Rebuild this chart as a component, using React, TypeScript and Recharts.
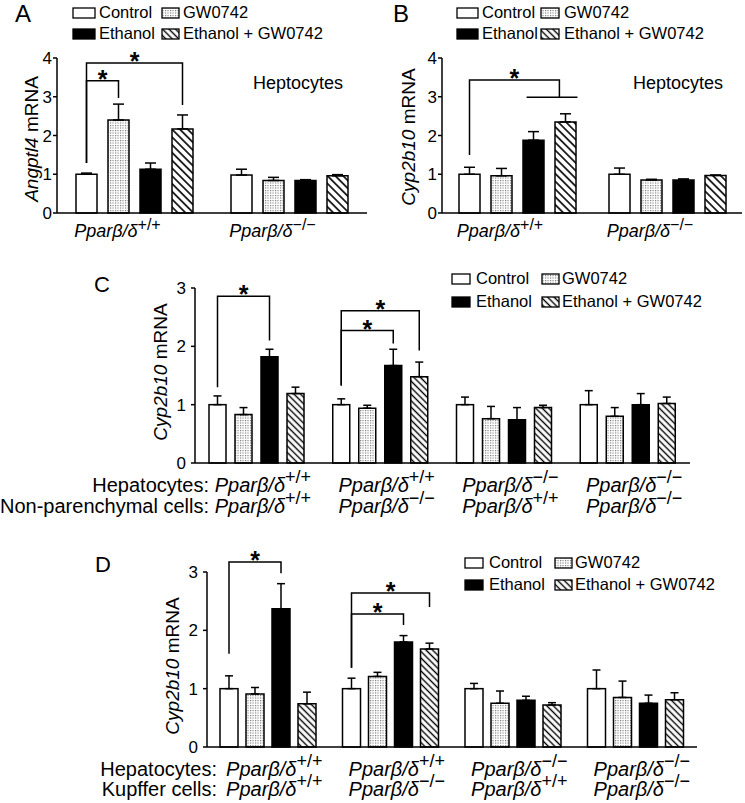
import React from "react";
import { Bar, BarChart, ErrorBar, XAxis, YAxis } from "recharts";

const FONT = "'Liberation Sans', Arial, Helvetica, sans-serif";

const seriesNames = ["Control", "GW0742", "Ethanol", "Ethanol + GW0742"];

// Panel A: Angptl4 mRNA, hepatocytes
const genoA = ["+/+", "−/−"];
const controlA = [1.0, 0.98];
const controlSemA = [0.03, 0.15];
const gwA = [2.4, 0.84];
const gwSemA = [0.41, 0.08];
const ethanolA = [1.13, 0.84];
const ethanolSemA = [0.16, 0.02];
const ethGwA = [2.17, 0.96];
const ethGwSemA = [0.36, 0.03];

// Panel B: Cyp2b10 mRNA, hepatocytes
const genoB = ["+/+", "−/−"];
const controlB = [1.0, 1.0];
const controlSemB = [0.18, 0.16];
const gwB = [0.96, 0.85];
const gwSemB = [0.19, 0.02];
const ethanolB = [1.88, 0.85];
const ethanolSemB = [0.22, 0.03];
const ethGwB = [2.35, 0.97];
const ethGwSemB = [0.21, 0.01];

// Panel C: hepatocytes + non-parenchymal cells
const hepC = ["+/+", "+/+", "−/−", "−/−"];
const npcC = ["+/+", "−/−", "+/+", "−/−"];
const controlC = [1.0, 1.0, 1.0, 1.0];
const controlSemC = [0.15, 0.1, 0.13, 0.24];
const gwC = [0.83, 0.94, 0.76, 0.8];
const gwSemC = [0.12, 0.05, 0.21, 0.15];
const ethanolC = [1.82, 1.67, 0.74, 1.0];
const ethanolSemC = [0.13, 0.28, 0.21, 0.19];
const ethGwC = [1.19, 1.48, 0.95, 1.02];
const ethGwSemC = [0.11, 0.25, 0.04, 0.11];

// Panel D: hepatocytes + Kupffer cells
const hepD = ["+/+", "+/+", "−/−", "−/−"];
const kupD = ["+/+", "−/−", "+/+", "−/−"];
const controlD = [1.0, 1.0, 1.0, 1.0];
const controlSemD = [0.22, 0.18, 0.09, 0.32];
const gwD = [0.91, 1.21, 0.75, 0.85];
const gwSemD = [0.11, 0.07, 0.21, 0.28];
const ethanolD = [2.37, 1.8, 0.8, 0.75];
const ethanolSemD = [0.43, 0.11, 0.07, 0.14];
const ethGwD = [0.74, 1.68, 0.72, 0.81];
const ethGwSemD = [0.2, 0.1, 0.04, 0.12];

// significance brackets: from control bar to series `to`, levels in mRNA units
type Bracket = { group: number; to: number | number[]; top: number; left: number; right: number };
const bracketsA: Bracket[] = [
  { group: 0, to: 1, top: 3.41, left: 1.29, right: 2.97 },
  { group: 0, to: 3, top: 3.87, left: 1.29, right: 2.79 },
];
const bracketsB: Bracket[] = [{ group: 0, to: [2, 3], top: 3.43, left: 1.5, right: 2.99 }];
const bracketsC: Bracket[] = [
  { group: 0, to: 2, top: 2.86, left: 1.3, right: 2.1 },
  { group: 1, to: 3, top: 2.61, left: 1.33, right: 1.93 },
  { group: 1, to: 2, top: 2.27, left: 1.33, right: 2.05 },
];
const bracketsD: Bracket[] = [
  { group: 0, to: 2, top: 3.17, left: 1.6, right: 2.98 },
  { group: 1, to: 3, top: 2.64, left: 1.36, right: 2.4 },
  { group: 1, to: 2, top: 2.28, left: 1.36, right: 2.09 },
];

function rows(
  ctrl: number[], ctrlSem: number[], gw: number[], gwSem: number[],
  et: number[], etSem: number[], eg: number[], egSem: number[]
) {
  return ctrl.map((_, i) => ({
    key: String(i),
    control: ctrl[i],
    controlErr: [0, ctrlSem[i]],
    gw: gw[i],
    gwErr: [0, gwSem[i]],
    ethanol: et[i],
    ethanolErr: [0, etSem[i]],
    ethGw: eg[i],
    ethGwErr: [0, egSem[i]],
  }));
}

const dataA = rows(controlA, controlSemA, gwA, gwSemA, ethanolA, ethanolSemA, ethGwA, ethGwSemA);
const dataB = rows(controlB, controlSemB, gwB, gwSemB, ethanolB, ethanolSemB, ethGwB, ethGwSemB);
const dataC = rows(controlC, controlSemC, gwC, gwSemC, ethanolC, ethanolSemC, ethGwC, ethGwSemC);
const dataD = rows(controlD, controlSemD, gwD, gwSemD, ethanolD, ethanolSemD, ethGwD, ethGwSemD);

// control bar that also carries the brackets of its group
function controlShape(vals: number[], brackets: Bracket[], gap: number) {
  return (p: any) => {
    const { x, y, width, height, index } = p;
    const base = y + height;
    const unit = height / vals[index];
    const py = (v: number) => base - v * unit;
    const step = width + gap;
    const cx = x + width / 2;
    return (
      <g>
        <rect x={x} y={y} width={width} height={height} fill="#fff" stroke="#000" strokeWidth={1.5} />
        {brackets
          .filter((b) => b.group === index)
          .map((b, k) => {
            let d: string;
            let xEnd: number;
            if (Array.isArray(b.to)) {
              const xa = cx + b.to[0] * step;
              const xb = cx + b.to[1] * step;
              xEnd = xb - 0.29 * width;
              d = `M${cx},${py(b.left)}V${py(b.top)}H${xEnd}V${py(b.right)}M${xa - 0.33 * width},${py(b.right)}H${xb + 0.57 * width}`;
            } else {
              xEnd = cx + b.to * step;
              d = `M${cx},${py(b.left)}V${py(b.top)}H${xEnd}V${py(b.right)}`;
            }
            return (
              <g key={k}>
                <path d={d} fill="none" stroke="#000" strokeWidth={1.5} />
                <text x={(cx + xEnd) / 2} y={py(b.top) + 7} textAnchor="middle" fontSize={25} fontWeight="bold" fill="#000">
                  *
                </text>
              </g>
            );
          })}
      </g>
    );
  };
}

function GenoTick(props: any) {
  const { x, y, payload, labels, fontSize, supSize, dx, lineY, raise } = props;
  const i = payload.index;
  return (
    <g>
      {labels.map((r: string[], k: number) => (
        <text key={k} x={x + dx} y={y + lineY[k]} textAnchor="middle" fontSize={fontSize} fill="#000">
          <tspan fontStyle="italic">Pparβ/δ</tspan>
          <tspan dy={-raise} fontSize={supSize}>
            {r[i]}
          </tspan>
        </text>
      ))}
    </g>
  );
}

interface PanelProps {
  left: number;
  top: number;
  width: number;
  height: number;
  margin: { top: number; right: number; bottom: number; left: number };
  data: any[];
  ctrl: number[];
  yMax: number;
  axisWidth: number;
  xHeight: number;
  barSize: number;
  barGap: number;
  hatch: string;
  cap: number;
  brackets: Bracket[];
  labels: string[][];
  labelFont: number;
  supFont: number;
  labelDx: number;
  lineY: number[];
  raise: number;
  tickMargin: number;
}

function Panel(p: PanelProps) {
  const yTicks = Array.from({ length: p.yMax + 1 }, (_, i) => i);
  const axisStyle = { stroke: "#000", strokeWidth: 1.5 };
  return (
    <div style={{ position: "absolute", left: p.left, top: p.top, width: p.width, height: p.height }}>
      <BarChart width={p.width} height={p.height} data={p.data} margin={p.margin} barGap={p.barGap}>
        <XAxis
          dataKey="key"
          height={p.xHeight}
          interval={0}
          tickLine={false}
          tickSize={0}
          tickMargin={0}
          axisLine={axisStyle}
          tick={
            <GenoTick
              labels={p.labels}
              fontSize={p.labelFont}
              supSize={p.supFont}
              dx={p.labelDx}
              lineY={p.lineY}
              raise={p.raise}
            />
          }
        />
        <YAxis
          domain={[0, p.yMax]}
          ticks={yTicks}
          interval={0}
          width={p.axisWidth}
          tickSize={4}
          tickMargin={p.tickMargin}
          axisLine={axisStyle}
          tickLine={axisStyle}
          tick={{ fill: "#000", fontSize: 17 }}
        />
        <Bar
          dataKey="control"
          barSize={p.barSize}
          fill="#fff"
          isAnimationActive={false}
          shape={controlShape(p.ctrl, p.brackets, p.barGap)}
        >
          <ErrorBar dataKey="controlErr" width={p.cap} stroke="#000" strokeWidth={1.5} />
        </Bar>
        <Bar dataKey="gw" barSize={p.barSize} fill="url(#dots)" stroke="#000" strokeWidth={1.5} isAnimationActive={false}>
          <ErrorBar dataKey="gwErr" width={p.cap} stroke="#000" strokeWidth={1.5} />
        </Bar>
        <Bar dataKey="ethanol" barSize={p.barSize} fill="#000" stroke="#000" strokeWidth={1.5} isAnimationActive={false}>
          <ErrorBar dataKey="ethanolErr" width={p.cap} stroke="#000" strokeWidth={1.5} />
        </Bar>
        <Bar dataKey="ethGw" barSize={p.barSize} fill={`url(#${p.hatch})`} stroke="#000" strokeWidth={1.5} isAnimationActive={false}>
          <ErrorBar dataKey="ethGwErr" width={p.cap} stroke="#000" strokeWidth={1.5} />
        </Bar>
      </BarChart>
    </div>
  );
}

const seriesFills = ["#fff", "url(#dots)", "#000", "url(#hatchC)"];

function LegendBlock({ x, textX, base, boxW, fs }: { x: number[]; textX: number[]; base: number[]; boxW: number[]; fs: number }) {
  return (
    <g>
      {seriesNames.map((name, i) => {
        const col = i % 2;
        const row = Math.floor(i / 2);
        return (
          <g key={name}>
            <rect x={x[col]} y={base[row] - 10} width={boxW[col]} height={10} fill={seriesFills[i]} stroke="#000" strokeWidth={1.3} />
            <text x={textX[col]} y={base[row]} fontSize={fs} fill="#000">
              {name}
            </text>
          </g>
        );
      })}
    </g>
  );
}

function YLabel({ x, y, gene, fs }: { x: number; y: number; gene: string; fs: number }) {
  return (
    <text x={x} y={y} transform={`rotate(-90 ${x} ${y})`} textAnchor="middle" dominantBaseline="central" fontSize={fs} fill="#000">
      <tspan fontStyle="italic">{gene}</tspan> mRNA
    </text>
  );
}

export default function App() {
  return (
    <div style={{ position: "absolute", left: 0, top: 0, width: 745, height: 803, background: "#fff", fontFamily: FONT, overflow: "hidden" }}>
      <svg width={0} height={0} style={{ position: "absolute" }}>
        <defs>
          <pattern id="dots" width={2.5} height={2.5} patternUnits="userSpaceOnUse">
            <rect width={2.5} height={2.5} fill="#fff" />
            <rect width={1.1} height={1.1} fill="#6f6f6f" />
          </pattern>
          <pattern id="hatchA" width={5.5} height={5.5} patternUnits="userSpaceOnUse" patternTransform="rotate(-45)">
            <rect width={5.5} height={5.5} fill="#fff" />
            <line x1={2.75} y1={0} x2={2.75} y2={5.5} stroke="#000" strokeWidth={1.6} />
          </pattern>
          <pattern id="hatchC" width={4.6} height={4.6} patternUnits="userSpaceOnUse" patternTransform="rotate(-45)">
            <rect width={4.6} height={4.6} fill="#fff" />
            <line x1={2.3} y1={0} x2={2.3} y2={4.6} stroke="#000" strokeWidth={1.4} />
          </pattern>
        </defs>
      </svg>

      <Panel
        left={0} top={0} width={370} height={245}
        margin={{ top: 58, right: 3, bottom: 0, left: 0 }}
        data={dataA} ctrl={controlA} yMax={4} axisWidth={57} xHeight={32}
        barSize={21} barGap={11} hatch="hatchA" cap={5.5} brackets={bracketsA}
        labels={[genoA]} labelFont={18} supFont={16} labelDx={-17} lineY={[24]} raise={7} tickMargin={1}
      />
      <Panel
        left={370} top={0} width={375} height={245}
        margin={{ top: 58, right: 3, bottom: 0, left: 0 }}
        data={dataB} ctrl={controlB} yMax={4} axisWidth={72} xHeight={32}
        barSize={21} barGap={11} hatch="hatchA" cap={5.5} brackets={bracketsB}
        labels={[genoB]} labelFont={18} supFont={16} labelDx={-17} lineY={[24]} raise={7} tickMargin={1}
      />
      <Panel
        left={0} top={240} width={745} height={290}
        margin={{ top: 48, right: 55, bottom: 0, left: 0 }}
        data={dataC} ctrl={controlC} yMax={3} axisWidth={195} xHeight={67}
        barSize={17} barGap={9} hatch="hatchC" cap={4} brackets={bracketsC}
        labels={[hepC, npcC]} labelFont={20} supFont={18} labelDx={6} lineY={[29, 50]} raise={9} tickMargin={5}
      />
      <Panel
        left={0} top={520} width={745} height={283}
        margin={{ top: 52, right: 48, bottom: 0, left: 0 }}
        data={dataD} ctrl={controlD} yMax={3} axisWidth={207} xHeight={56}
        barSize={18} barGap={8} hatch="hatchC" cap={4} brackets={bracketsD}
        labels={[hepD, kupD]} labelFont={20} supFont={18} labelDx={6} lineY={[29, 49]} raise={9} tickMargin={5}
      />

      <svg width={745} height={803} style={{ position: "absolute", left: 0, top: 0, pointerEvents: "none" }}>
        <text x={15} y={22} fontSize={24} fill="#000">A</text>
        <text x={393} y={22} fontSize={24} fill="#000">B</text>
        <text x={94} y={292} fontSize={22} fill="#000">C</text>
        <text x={95} y={572} fontSize={22} fill="#000">D</text>

        <LegendBlock x={[73, 162]} textX={[99, 183]} base={[18, 39]} boxW={[22, 17]} fs={16.5} />
        <LegendBlock x={[457, 541]} textX={[482, 564]} base={[18, 39]} boxW={[21, 18]} fs={16.5} />
        <LegendBlock x={[452, 542]} textX={[476, 562]} base={[284, 307]} boxW={[18, 17]} fs={16.5} />
        <LegendBlock x={[465, 555]} textX={[489, 575]} base={[568, 590]} boxW={[18, 17]} fs={16.5} />

        <text x={253} y={89} fontSize={18} fill="#000">Heptocytes</text>
        <text x={633} y={89} fontSize={18} fill="#000">Heptocytes</text>

        <YLabel x={31} y={139} gene="Angptl4" fs={19} />
        <YLabel x={408} y={137} gene="Cyp2b10" fs={19} />
        <YLabel x={160} y={372} gene="Cyp2b10" fs={19} />
        <YLabel x={172} y={666} gene="Cyp2b10" fs={19} />

        <text x={209} y={492} textAnchor="end" fontSize={20} fill="#000">Hepatocytes:</text>
        <text x={209} y={513} textAnchor="end" fontSize={20} fill="#000">Non-parenchymal cells:</text>
        <text x={217} y={776} textAnchor="end" fontSize={20} fill="#000">Hepatocytes:</text>
        <text x={217} y={796} textAnchor="end" fontSize={20} fill="#000">Kupffer cells:</text>
      </svg>
    </div>
  );
}
